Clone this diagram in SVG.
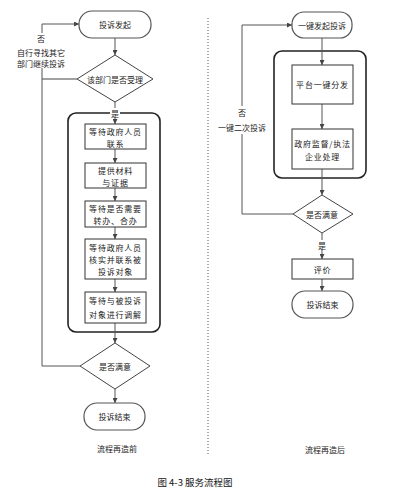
<svg xmlns="http://www.w3.org/2000/svg" width="418" height="494" viewBox="0 0 418 494">
<defs>
<marker id="ah" viewBox="0 0 10 10" refX="10" refY="5" markerWidth="5" markerHeight="5" orient="auto" markerUnits="userSpaceOnUse">
<path d="M0,0 L10,5 L0,10 Z" fill="#444"/>
</marker>
</defs>
<style>
text{font-family:"Noto Sans CJK SC","Noto Sans",sans-serif;font-size:8px;fill:#222;text-anchor:middle;dominant-baseline:central}
.bx text{letter-spacing:0.8px}
.term{fill:#fff;stroke:#555;stroke-width:1.2}
.box{fill:#fff;stroke:#333;stroke-width:1}
.dia{fill:#fff;stroke:#444;stroke-width:1}
.cont{fill:none;stroke:#222;stroke-width:1.6}
.ln{fill:none;stroke:#444;stroke-width:1}
.arr{fill:none;stroke:#555;stroke-width:1;marker-end:url(#ah)}
.bg{fill:#fff}
.cap{font-size:9.5px;fill:#111}
</style>
<rect width="418" height="494" fill="#fff"/>
<line x1="208" y1="18" x2="208" y2="456" stroke="#555" stroke-width="1" stroke-dasharray="1,2"/>
<g id="containers">
<rect class="cont" x="68" y="113" width="92" height="219" rx="8"/>
<rect class="cont" x="274" y="51" width="92" height="127" rx="8"/>
</g>
<g id="connectors">
<path class="ln" d="M77,79 H42"/>
<path class="arr" d="M80,366 H42 V24 H79"/>
<path class="arr" d="M115,38 V55"/>
<path class="arr" d="M115,102 V124"/>
<path class="arr" d="M115,149 V163"/>
<path class="arr" d="M115,188 V201"/>
<path class="arr" d="M115,227 V239"/>
<path class="arr" d="M115,279 V292"/>
<path class="arr" d="M115,323 V343"/>
<path class="arr" d="M115,389 V403"/>
<path class="arr" d="M293,214 H242 V25 H292"/>
<path class="arr" d="M322,38 V65"/>
<path class="arr" d="M322,104 V129"/>
<path class="arr" d="M322,169 V195"/>
<path class="arr" d="M322,233 V259"/>
<path class="arr" d="M322,279 V291"/>
</g>
<g id="labels">
<rect class="bg" x="16" y="33" width="51" height="35"/>
<text x="41" y="38">否</text>
<text x="41" y="52">自行寻找其它</text>
<text x="41" y="63">部门继续投诉</text>
<rect class="bg" x="110" y="108" width="10" height="10"/>
<text x="115" y="113">是</text>
<rect class="bg" x="216" y="106" width="52" height="28"/>
<text x="242" y="112">否</text>
<text x="242" y="127">一键二次投诉</text>
<rect class="bg" x="317" y="240" width="10" height="10"/>
<text x="322" y="245">是</text>
</g>
<g id="L_start"><rect class="term" x="79" y="11" width="72" height="27" rx="13"/><text x="115" y="24.5">投诉发起</text></g>
<g id="L_accept"><polygon class="dia" points="115,55 153,79 115,102 77,79"/><text x="115" y="79">该部门是否受理</text></g>
<g id="L_b1" class="bx"><rect class="box" x="85" y="124" width="61" height="25"/><text x="115.5" y="131">等待政府人员</text><text x="115.5" y="143">联系</text></g>
<g id="L_b2" class="bx"><rect class="box" x="85" y="163" width="61" height="25"/><text x="115.5" y="170">提供材料</text><text x="115.5" y="182">与证据</text></g>
<g id="L_b3" class="bx"><rect class="box" x="85" y="201" width="61" height="26"/><text x="115.5" y="208">等待是否需要</text><text x="115.5" y="220">转办、合办</text></g>
<g id="L_b4" class="bx"><rect class="box" x="85" y="239" width="61" height="40"/><text x="115.5" y="247">等待政府人员</text><text x="115.5" y="259">核实并联系被</text><text x="115.5" y="271">投诉对象</text></g>
<g id="L_b5" class="bx"><rect class="box" x="85" y="292" width="61" height="31"/><text x="115.5" y="300">等待与被投诉</text><text x="115.5" y="314">对象进行调解</text></g>
<g id="L_sat"><polygon class="dia" points="115,343 150,366 115,389 80,366"/><text x="115" y="366">是否满意</text></g>
<g id="L_end"><rect class="term" x="84" y="403" width="61" height="27" rx="13"/><text x="114.5" y="416.5">投诉结束</text></g>
<text x="117" y="448">流程再造前</text>
<g id="R_start"><rect class="term" x="292" y="12" width="60" height="26" rx="12"/><text x="322" y="25">一键发起投诉</text></g>
<g id="R_b1" class="bx"><rect class="box" x="292" y="65" width="61" height="39"/><text x="322.5" y="84">平台一键分发</text></g>
<g id="R_b2" class="bx"><rect class="box" x="292" y="129" width="61" height="40"/><text x="322.5" y="143">政府监督/执法</text><text x="322.5" y="156">企业处理</text></g>
<g id="R_sat"><polygon class="dia" points="322,195 353,214 322,233 293,214"/><text x="322" y="214">是否满意</text></g>
<g id="R_eval" class="bx"><rect class="box" x="292" y="259" width="61" height="20"/><text x="322.5" y="269">评价</text></g>
<g id="R_end"><rect class="term" x="292" y="291" width="61" height="27" rx="13"/><text x="322.5" y="304.5">投诉结束</text></g>
<text x="325" y="449">流程再造后</text>
<text class="cap" x="195" y="482">图 4-3 服务流程图</text>
</svg>
